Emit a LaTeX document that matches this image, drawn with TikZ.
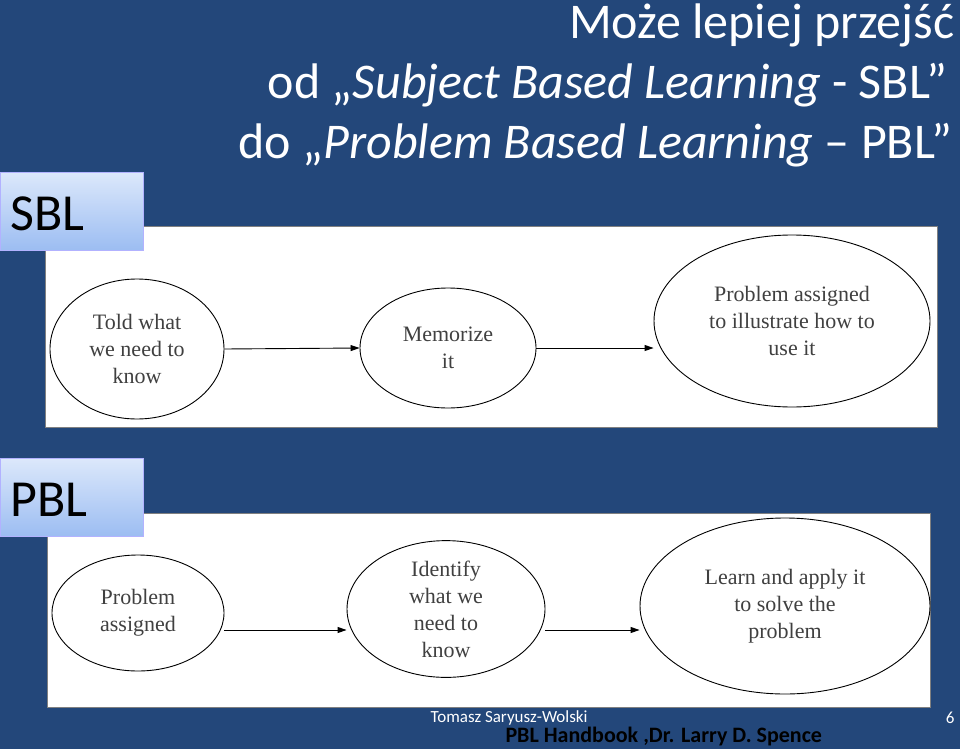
\documentclass[tikz,border=0pt]{standalone}
\usepackage{fontspec}
\setmainfont{Carlito}
\newfontfamily\serifb{Liberation Serif}
\usetikzlibrary{arrows.meta,shapes.geometric}
\definecolor{bg}{HTML}{23477A}
\definecolor{lblA}{HTML}{DCE8FB}
\definecolor{lblB}{HTML}{9CBDF2}
\tikzset{
 ell/.style={draw=black,line width=0.9pt,fill=white,ellipse,inner sep=0pt,align=center,font=\serifb\fontsize{22}{27}\selectfont,text=black!75},
 arr/.style={-{Triangle[length=9pt,width=6pt]},line width=0.9pt},
 lbl/.style={draw=white!70!blue,top color=lblA,bottom color=lblB,minimum width=143pt,minimum height=78pt,anchor=north west,inner sep=0pt,text=black},
 lbltxt/.style={anchor=base west,font=\fontsize{52}{54}\selectfont,text=black,inner sep=0pt},
 ttl/.style={anchor=east,text=white,font=\fontsize{50}{52}\selectfont},
 panel/.style={fill=white,draw=black!50,line width=1pt}
}
\begin{document}
\begin{tikzpicture}[x=1pt,y=-1pt]
\fill[bg] (0,0) rectangle (960,749);
\useasboundingbox (0,0) rectangle (960,749);
\node[ttl] (t1) at (958,25) {Może lepiej przejść};
\node[ttl] (t2) at (951,85) {od „\textit{Subject Based Learning} - SBL”};
\node[ttl] (t3) at (956,145) {do „\textit{Problem Based Learning} – PBL”};
\draw[panel] (45,226) rectangle (937,427);
\draw[panel] (47,513) rectangle (930,707);
\node[lbl] (sbl) at (0,172) {};
\node[lbltxt] (sblt) at (10,230) {SBL};
\node[lbl] (pbl) at (0,458) {};
\node[lbltxt] (pblt) at (10,516) {PBL};
\node[ell,minimum width=174pt,minimum height=140pt] (a1) at (137,349) {Told what\\we need to\\know};
\node[ell,minimum width=176pt,minimum height=120pt] (a2) at (448,348) {Memorize\\it};
\node[ell,minimum width=276pt,minimum height=172pt] (a3) at (792,321) {Problem assigned\\to illustrate how to\\use it};
\draw[arr] (a1.east) -- (a2.west);
\draw[arr] (a2.east) -- (a3.west|-a2.east);
\node[ell,minimum width=172pt,minimum height=116pt] (b1) at (138,613) {Problem\\assigned};
\node[ell,minimum width=198pt,minimum height=128pt] (b2) at (446,609) {Identify\\what we\\need to\\know};
\node[ell,minimum width=290pt,minimum height=176pt] (b3) at (785,606) {Learn and apply it\\to solve the\\problem};
\draw[arr] (b1.east|-0,630) -- (b2.west|-0,630);
\draw[arr] (b2.east|-0,630) -- (b3.west|-0,630);
\node[anchor=west,text=white,font=\fontsize{17}{19}\selectfont] (f1) at (427,718) {Tomasz Saryusz-Wolski};
\node[anchor=east,text=white,font=\fontsize{17}{19}\selectfont] (f2) at (958,718) {6};
\node[anchor=west,text=black,font=\bfseries\fontsize{22}{24}\selectfont] (f3) at (502,737) {PBL Handbook ,Dr. Larry D. Spence};
\end{tikzpicture}
\end{document}
